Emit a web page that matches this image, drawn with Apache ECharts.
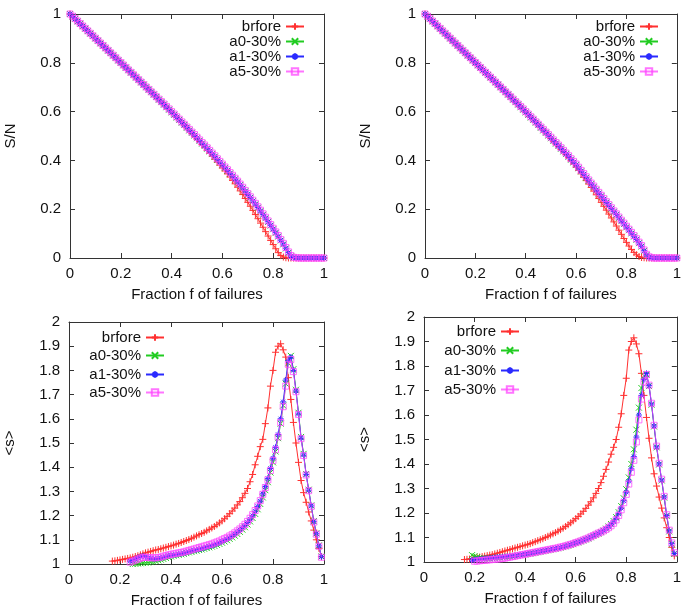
<!DOCTYPE html>
<html>
<head>
<meta charset="utf-8">
<script src="https://cdn.jsdelivr.net/npm/echarts@6/dist/echarts.min.js"></script>
<style>
  html, body { margin: 0; padding: 0; background: #fff; }
  #chart { width: 684px; height: 611px; }
</style>
</head>
<body>
<div id="chart"></div>
<script>
// sampling grid of the fraction f of failures
const fGrid = [0,0.01,0.02,0.03,0.04,0.05,0.06,0.07,0.08,0.09,0.1,0.11,0.12,0.13,0.14,0.15,0.16,0.17,0.18,0.19,0.2,0.21,0.22,0.23,0.24,0.25,0.26,0.27,0.28,0.29,0.3,0.31,0.32,0.33,0.34,0.35,0.36,0.37,0.38,0.39,0.4,0.41,0.42,0.43,0.44,0.45,0.46,0.47,0.48,0.49,0.5,0.51,0.52,0.53,0.54,0.55,0.56,0.57,0.58,0.59,0.6,0.61,0.62,0.63,0.64,0.65,0.66,0.67,0.68,0.69,0.7,0.71,0.72,0.73,0.74,0.75,0.76,0.77,0.78,0.79,0.8,0.81,0.82,0.83,0.84,0.85,0.86,0.87,0.88,0.89,0.9,0.91,0.92,0.93,0.94,0.95,0.96,0.97,0.98,0.99,1];

const seriesNames = ["brfore", "a0-30%", "a1-30%", "a5-30%"];

// top left: S/N
const tlBrfore = [1,0.99,0.98,0.97,0.96,0.95,0.94,0.93,0.92,0.91,0.9,0.89,0.88,0.87,0.86,0.85,0.84,0.83,0.82,0.81,0.8,0.79,0.78,0.77,0.76,0.75,0.74,0.73,0.72,0.71,0.7,0.69,0.68,0.67,0.66,0.649,0.639,0.629,0.619,0.609,0.598,0.588,0.577,0.567,0.556,0.545,0.534,0.522,0.511,0.5,0.488,0.477,0.465,0.453,0.441,0.429,0.417,0.405,0.393,0.381,0.369,0.357,0.345,0.332,0.318,0.304,0.29,0.275,0.26,0.244,0.228,0.212,0.195,0.178,0.161,0.143,0.126,0.108,0.09,0.072,0.055,0.038,0.022,0.01,0.004,0.001,0,0,0,0,0,0,0,0,0,0,0,0,0,0,0];
const tlA0 = [1,0.99,0.98,0.97,0.96,0.95,0.94,0.93,0.92,0.91,0.9,0.89,0.88,0.87,0.86,0.85,0.84,0.83,0.82,0.81,0.8,0.79,0.78,0.77,0.76,0.75,0.74,0.73,0.72,0.71,0.7,0.69,0.68,0.67,0.66,0.649,0.639,0.629,0.618,0.608,0.597,0.587,0.576,0.566,0.555,0.545,0.534,0.523,0.513,0.502,0.491,0.48,0.469,0.459,0.448,0.437,0.426,0.415,0.403,0.392,0.381,0.369,0.358,0.346,0.335,0.323,0.311,0.299,0.286,0.273,0.26,0.247,0.233,0.22,0.206,0.192,0.177,0.163,0.148,0.133,0.118,0.103,0.088,0.072,0.056,0.039,0.021,0.007,0.002,0.001,0,0,0,0,0,0,0,0,0,0,0];
const tlA1 = [1,0.99,0.98,0.97,0.96,0.95,0.94,0.93,0.92,0.91,0.9,0.89,0.88,0.87,0.86,0.85,0.84,0.83,0.82,0.81,0.8,0.79,0.78,0.77,0.76,0.75,0.74,0.73,0.72,0.71,0.7,0.69,0.68,0.67,0.66,0.649,0.639,0.629,0.619,0.609,0.598,0.588,0.577,0.567,0.556,0.546,0.535,0.524,0.514,0.503,0.492,0.481,0.47,0.46,0.449,0.438,0.427,0.416,0.404,0.393,0.382,0.37,0.359,0.347,0.336,0.324,0.312,0.3,0.287,0.274,0.261,0.248,0.234,0.221,0.207,0.193,0.178,0.164,0.149,0.134,0.119,0.104,0.089,0.073,0.057,0.04,0.022,0.008,0.002,0.001,0,0,0,0,0,0,0,0,0,0,0];
const tlA5 = [1,0.991,0.981,0.971,0.961,0.951,0.941,0.931,0.921,0.911,0.901,0.891,0.881,0.871,0.861,0.851,0.841,0.831,0.821,0.811,0.801,0.791,0.781,0.771,0.761,0.751,0.741,0.731,0.721,0.711,0.701,0.691,0.681,0.671,0.661,0.651,0.641,0.631,0.621,0.611,0.6,0.59,0.579,0.569,0.558,0.548,0.537,0.527,0.516,0.506,0.495,0.484,0.473,0.463,0.452,0.441,0.43,0.419,0.407,0.396,0.385,0.373,0.362,0.35,0.339,0.327,0.315,0.303,0.29,0.277,0.264,0.251,0.237,0.224,0.21,0.196,0.181,0.167,0.152,0.137,0.122,0.107,0.092,0.076,0.06,0.043,0.025,0.01,0.003,0.001,0,0,0,0,0,0,0,0,0,0,0];

// top right: S/N
const trBrfore = [1,0.99,0.98,0.97,0.96,0.95,0.94,0.93,0.92,0.91,0.9,0.89,0.88,0.87,0.86,0.85,0.84,0.83,0.82,0.81,0.8,0.79,0.78,0.77,0.76,0.75,0.74,0.73,0.72,0.71,0.7,0.69,0.68,0.67,0.66,0.649,0.639,0.629,0.619,0.609,0.598,0.588,0.577,0.567,0.556,0.546,0.535,0.524,0.514,0.503,0.49,0.479,0.468,0.457,0.446,0.436,0.424,0.411,0.398,0.385,0.372,0.359,0.345,0.331,0.317,0.303,0.289,0.274,0.259,0.244,0.228,0.212,0.196,0.18,0.164,0.148,0.131,0.114,0.097,0.08,0.064,0.049,0.035,0.023,0.013,0.006,0.002,0.001,0,0,0,0,0,0,0,0,0,0,0,0,0];
const trA0 = [1,0.99,0.98,0.97,0.96,0.95,0.94,0.93,0.92,0.91,0.9,0.89,0.88,0.87,0.86,0.85,0.84,0.83,0.82,0.81,0.8,0.79,0.78,0.77,0.76,0.75,0.74,0.73,0.72,0.71,0.7,0.69,0.68,0.67,0.66,0.649,0.639,0.629,0.618,0.608,0.597,0.587,0.576,0.566,0.555,0.545,0.534,0.523,0.513,0.502,0.491,0.48,0.469,0.459,0.448,0.437,0.426,0.415,0.403,0.392,0.381,0.368,0.355,0.342,0.329,0.316,0.303,0.291,0.278,0.265,0.253,0.24,0.227,0.215,0.202,0.189,0.177,0.164,0.151,0.139,0.126,0.114,0.101,0.088,0.075,0.061,0.047,0.029,0.012,0.004,0.001,0,0,0,0,0,0,0,0,0,0];
const trA1 = [1,0.99,0.98,0.97,0.96,0.95,0.94,0.93,0.92,0.91,0.9,0.89,0.88,0.87,0.86,0.85,0.84,0.83,0.82,0.81,0.8,0.79,0.78,0.77,0.76,0.75,0.74,0.73,0.72,0.71,0.7,0.69,0.68,0.67,0.66,0.649,0.639,0.629,0.619,0.609,0.598,0.588,0.577,0.567,0.556,0.546,0.535,0.524,0.514,0.503,0.492,0.481,0.47,0.46,0.449,0.438,0.427,0.416,0.404,0.393,0.382,0.369,0.356,0.343,0.33,0.317,0.304,0.292,0.279,0.266,0.254,0.241,0.228,0.216,0.203,0.19,0.178,0.165,0.152,0.14,0.127,0.115,0.102,0.089,0.076,0.062,0.048,0.03,0.013,0.004,0.001,0,0,0,0,0,0,0,0,0,0];
const trA5 = [1,0.991,0.981,0.971,0.961,0.951,0.941,0.931,0.921,0.911,0.901,0.891,0.881,0.871,0.861,0.851,0.841,0.831,0.821,0.811,0.801,0.791,0.781,0.771,0.761,0.751,0.741,0.731,0.721,0.711,0.701,0.691,0.681,0.671,0.661,0.651,0.641,0.631,0.621,0.611,0.6,0.59,0.579,0.569,0.558,0.548,0.537,0.527,0.516,0.506,0.495,0.484,0.473,0.463,0.452,0.441,0.43,0.419,0.407,0.396,0.385,0.372,0.359,0.346,0.333,0.32,0.307,0.295,0.282,0.269,0.257,0.244,0.231,0.219,0.206,0.193,0.181,0.168,0.155,0.143,0.13,0.118,0.105,0.092,0.079,0.065,0.051,0.033,0.015,0.005,0.001,0,0,0,0,0,0,0,0,0,0];

// bottom left: <s>, first point at fGrid[start]
const blStart = { brfore: 17, a0: 25, a1: 24, a5: 24 };
const blBrfore = [1.012,1.013,1.015,1.017,1.019,1.021,1.023,1.025,1.028,1.031,1.034,1.038,1.042,1.046,1.049,1.052,1.055,1.058,1.06,1.063,1.066,1.069,1.072,1.075,1.078,1.082,1.085,1.089,1.093,1.097,1.101,1.106,1.111,1.116,1.121,1.126,1.131,1.137,1.143,1.149,1.155,1.162,1.17,1.178,1.187,1.197,1.208,1.219,1.231,1.244,1.258,1.274,1.292,1.312,1.34,1.37,1.41,1.445,1.485,1.515,1.58,1.645,1.735,1.8,1.875,1.9,1.91,1.885,1.855,1.77,1.68,1.585,1.5,1.42,1.345,1.295,1.255,1.215,1.178,1.14,1.1,1.065,1.03];
const blA0 = [1,1.001,1.002,1.003,1.004,1.005,1.006,1.008,1.01,1.012,1.015,1.018,1.021,1.025,1.028,1.031,1.034,1.036,1.038,1.04,1.042,1.045,1.048,1.05,1.053,1.055,1.058,1.06,1.063,1.066,1.069,1.072,1.075,1.079,1.083,1.088,1.093,1.098,1.104,1.11,1.117,1.124,1.133,1.142,1.152,1.163,1.176,1.19,1.207,1.226,1.248,1.275,1.305,1.338,1.378,1.42,1.465,1.52,1.58,1.655,1.745,1.83,1.86,1.805,1.72,1.625,1.525,1.455,1.372,1.307,1.242,1.177,1.127,1.077,1.031];
const blA1 = [1.012,1.015,1.02,1.026,1.03,1.033,1.03,1.026,1.024,1.022,1.022,1.023,1.025,1.028,1.031,1.034,1.036,1.037,1.039,1.041,1.043,1.045,1.048,1.051,1.054,1.057,1.059,1.061,1.064,1.067,1.07,1.073,1.076,1.08,1.084,1.089,1.094,1.099,1.104,1.11,1.117,1.124,1.132,1.141,1.15,1.16,1.172,1.185,1.2,1.218,1.238,1.26,1.29,1.32,1.353,1.395,1.437,1.482,1.535,1.6,1.67,1.76,1.84,1.855,1.8,1.715,1.62,1.52,1.45,1.37,1.305,1.24,1.175,1.125,1.075,1.03];
const blA5 = [1.008,1.012,1.016,1.02,1.024,1.027,1.028,1.027,1.026,1.025,1.026,1.027,1.029,1.032,1.035,1.038,1.04,1.042,1.044,1.046,1.048,1.05,1.053,1.056,1.059,1.062,1.065,1.068,1.071,1.074,1.077,1.08,1.083,1.087,1.091,1.095,1.1,1.105,1.11,1.116,1.122,1.129,1.137,1.145,1.154,1.164,1.176,1.189,1.204,1.221,1.24,1.262,1.288,1.316,1.348,1.386,1.428,1.472,1.525,1.585,1.65,1.735,1.825,1.845,1.795,1.712,1.618,1.518,1.448,1.368,1.303,1.238,1.173,1.123,1.073,1.028];

// bottom right: <s>
const brStart = { brfore: 16, a0: 19, a1: 19, a5: 20 };
const brBrfore = [1.01,1.011,1.012,1.014,1.016,1.018,1.02,1.022,1.024,1.026,1.028,1.03,1.033,1.036,1.039,1.042,1.045,1.048,1.051,1.054,1.057,1.06,1.063,1.066,1.069,1.072,1.075,1.079,1.083,1.087,1.091,1.095,1.1,1.105,1.11,1.115,1.12,1.126,1.132,1.138,1.145,1.152,1.16,1.168,1.177,1.186,1.196,1.207,1.219,1.232,1.246,1.262,1.28,1.3,1.324,1.35,1.378,1.408,1.44,1.468,1.5,1.55,1.605,1.68,1.75,1.865,1.9,1.915,1.89,1.85,1.77,1.68,1.59,1.505,1.425,1.36,1.31,1.265,1.22,1.18,1.14,1.1,1.06,1.025];
const brA0 = [1.028,1.024,1.02,1.017,1.015,1.014,1.014,1.014,1.015,1.016,1.017,1.018,1.019,1.02,1.021,1.022,1.023,1.025,1.026,1.028,1.029,1.031,1.033,1.034,1.036,1.038,1.04,1.042,1.044,1.046,1.048,1.05,1.052,1.054,1.056,1.059,1.061,1.064,1.067,1.07,1.073,1.077,1.08,1.084,1.088,1.092,1.096,1.101,1.106,1.111,1.116,1.122,1.128,1.136,1.145,1.155,1.167,1.183,1.203,1.228,1.26,1.297,1.345,1.4,1.46,1.54,1.63,1.71,1.76,1.765,1.718,1.642,1.553,1.468,1.398,1.333,1.263,1.188,1.125,1.073,1.033];
const brA1 = [1.008,1.01,1.011,1.012,1.013,1.014,1.015,1.016,1.017,1.018,1.019,1.02,1.021,1.022,1.023,1.024,1.025,1.026,1.027,1.029,1.03,1.032,1.034,1.035,1.037,1.039,1.041,1.043,1.045,1.047,1.049,1.051,1.053,1.055,1.057,1.06,1.062,1.065,1.068,1.071,1.074,1.078,1.081,1.085,1.089,1.093,1.097,1.102,1.107,1.112,1.117,1.122,1.128,1.135,1.143,1.152,1.163,1.178,1.197,1.22,1.25,1.285,1.33,1.38,1.43,1.51,1.6,1.68,1.745,1.77,1.72,1.645,1.555,1.47,1.4,1.335,1.265,1.19,1.127,1.075,1.035];
const brA5 = [1.003,1.004,1.005,1.006,1.007,1.008,1.009,1.01,1.011,1.012,1.013,1.015,1.016,1.018,1.02,1.022,1.024,1.026,1.028,1.03,1.032,1.034,1.036,1.038,1.04,1.042,1.044,1.046,1.048,1.05,1.052,1.054,1.056,1.058,1.061,1.063,1.066,1.069,1.072,1.075,1.079,1.082,1.086,1.09,1.094,1.098,1.103,1.108,1.113,1.118,1.122,1.127,1.133,1.14,1.148,1.158,1.172,1.19,1.213,1.242,1.276,1.318,1.366,1.415,1.49,1.58,1.665,1.735,1.765,1.722,1.648,1.558,1.473,1.403,1.338,1.268,1.193,1.13,1.078,1.038];

const FONT = "Liberation Sans, Arial, sans-serif";
const INK = "#111";
const FRAME = "#333";

const marks = {
  "brfore": { color: "#ff3030", fill: "#ff3030", size: 7, symbol: "path://M0,5L10,5M5,0L5,10" },
  "a0-30%": { color: "#22cc22", fill: "#22cc22", size: 6, symbol: "path://M0,0L10,10M10,0L0,10" },
  "a1-30%": { color: "#2a2aff", fill: "#2a2aff", size: 6, symbol: "path://M0,5L10,5M5,0L5,10M1.5,1.5L8.5,8.5M8.5,1.5L1.5,8.5" },
  "a5-30%": { color: "rgba(255,70,255,0.75)", fill: "rgba(0,0,0,0)", size: 6, symbol: "path://M0,0L10,0L10,10L0,10Z" },
};

function pairs(start, ys) {
  return ys.map((y, k) => [fGrid[start + k], y]);
}

const panels = [
  {
    grid: { left: 70, top: 14, width: 254, height: 244 },
    y: { min: 0, max: 1, interval: 0.2, name: "S/N" },
    legend: { right: 379, tops: [19, 34, 49, 64] },
    data: [pairs(0, tlBrfore), pairs(0, tlA0), pairs(0, tlA1), pairs(0, tlA5)],
  },
  {
    grid: { left: 425, top: 14, width: 252, height: 244 },
    y: { min: 0, max: 1, interval: 0.2, name: "S/N" },
    legend: { right: 25, tops: [19, 34, 49, 64] },
    data: [pairs(0, trBrfore), pairs(0, trA0), pairs(0, trA1), pairs(0, trA5)],
  },
  {
    grid: { left: 69, top: 322, width: 255, height: 242 },
    y: { min: 1, max: 2, interval: 0.1, name: "<s>" },
    legend: { right: 519, tops: [330, 348, 367, 385] },
    data: [
      pairs(blStart.brfore, blBrfore),
      pairs(blStart.a0, blA0),
      pairs(blStart.a1, blA1),
      pairs(blStart.a5, blA5),
    ],
  },
  {
    grid: { left: 424, top: 317, width: 254, height: 245 },
    y: { min: 1, max: 2, interval: 0.1, name: "<s>" },
    legend: { right: 164, tops: [324, 343, 363, 382] },
    data: [
      pairs(brStart.brfore, brBrfore),
      pairs(brStart.a0, brA0),
      pairs(brStart.a1, brA1),
      pairs(brStart.a5, brA5),
    ],
  },
];

const tickStyle = { inside: true, length: 5, lineStyle: { color: FRAME, width: 1 } };
const lineStyle = { show: true, onZero: false, lineStyle: { color: FRAME, width: 1 } };
const labelStyle = { fontFamily: FONT, fontSize: 15, color: INK };

const grid = [];
const xAxis = [];
const yAxis = [];
const series = [];
const legend = [];

panels.forEach((p, i) => {
  grid.push(p.grid);
  const xBase = { type: "value", gridIndex: i, min: 0, max: 1, interval: 0.2, splitLine: { show: false }, axisLine: lineStyle, axisTick: tickStyle };
  const yBase = { type: "value", gridIndex: i, min: p.y.min, max: p.y.max, interval: p.y.interval, splitLine: { show: false }, axisLine: lineStyle, axisTick: tickStyle };
  xAxis.push(Object.assign({}, xBase, {
    position: "bottom",
    name: "Fraction f of failures",
    nameLocation: "middle",
    nameGap: 29,
    nameTextStyle: labelStyle,
    axisLabel: Object.assign({ margin: 8 }, labelStyle),
  }));
  xAxis.push(Object.assign({}, xBase, { position: "top", axisLabel: { show: false } }));
  yAxis.push(Object.assign({}, yBase, {
    position: "left",
    name: p.y.name,
    nameLocation: "middle",
    nameGap: 52,
    nameTextStyle: labelStyle,
    axisLabel: Object.assign({ margin: 9 }, labelStyle),
  }));
  yAxis.push(Object.assign({}, yBase, { position: "right", axisLabel: { show: false } }));

  seriesNames.forEach((name, k) => {
    const m = marks[name];
    series.push({
      type: "line",
      name: name,
      xAxisIndex: 2 * i,
      yAxisIndex: 2 * i,
      data: p.data[k],
      symbol: m.symbol,
      symbolSize: m.size,
      showSymbol: true,
      lineStyle: { color: m.color, width: 1 },
      itemStyle: { color: m.fill, borderColor: m.color, borderWidth: 1 },
      emphasis: { disabled: true },
      z: 2 + k,
    });
    legend.push({
      data: [name],
      right: p.legend.right,
      top: p.legend.tops[k],
      orient: "vertical",
      align: "right",
      padding: 0,
      itemWidth: 18,
      itemHeight: 8,
      selectedMode: false,
      textStyle: labelStyle,
    });
  });
});

const chart = echarts.init(document.getElementById("chart"), null, { renderer: "canvas" });
chart.setOption({
  animation: false,
  backgroundColor: "#fff",
  grid,
  xAxis,
  yAxis,
  legend,
  series,
});
</script>
</body>
</html>
